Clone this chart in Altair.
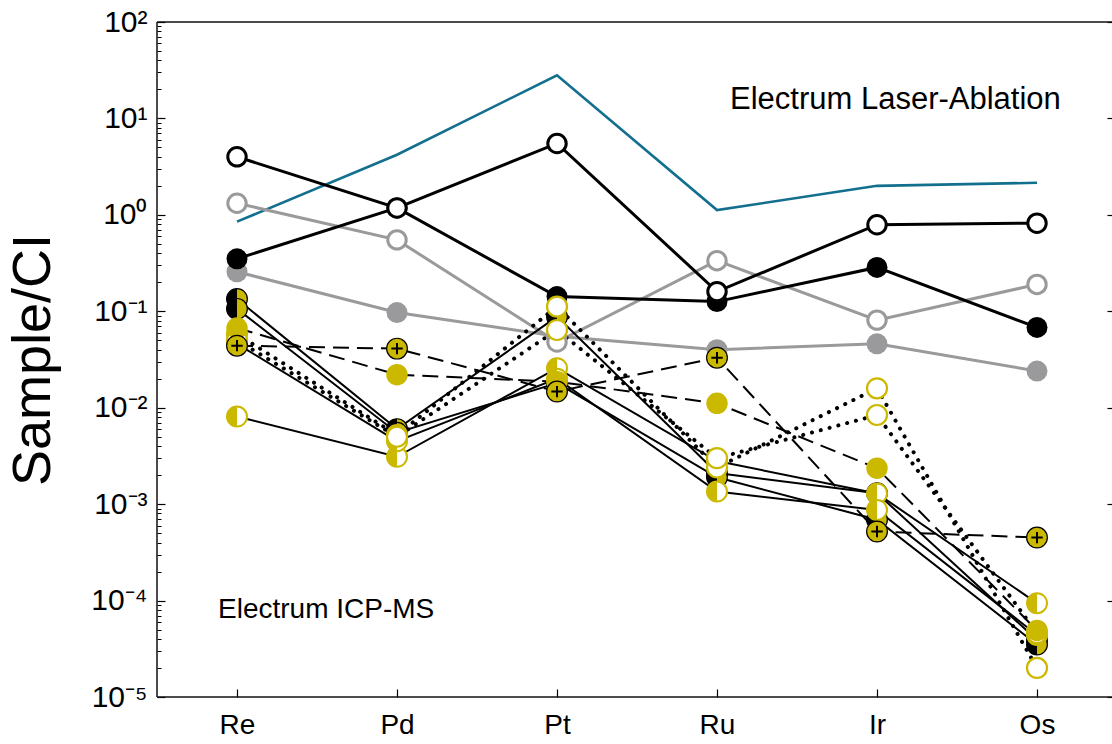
import json

import altair as alt
import pandas as pd

# ---- data -----------------------------------------------------------------
elements = ["Re", "Pd", "Pt", "Ru", "Ir", "Os"]

y_tick_values = [1e-5, 1e-4, 1e-3, 1e-2, 1e-1, 1e0, 1e1, 1e2]
y_tick_labels = ["10⁻⁵", "10⁻⁴", "10⁻³", "10⁻²", "10⁻¹", "10⁰", "10¹", "10²"]
y_minor_values = [m * 10.0 ** e for e in range(-5, 2) for m in range(2, 10)]

# Electrum, laser ablation
la_average = [0.85, 4.2, 28.0, 1.12, 2.0, 2.15]
la_open_black = [4.0, 1.18, 5.5, 0.16, 0.79, 0.82]
la_filled_black = [0.35, 1.18, 0.142, 0.126, 0.285, 0.068]
la_open_grey = [1.32, 0.55, 0.048, 0.335, 0.081, 0.19]
la_filled_grey = [0.257, 0.097, 0.055, 0.040, 0.046, 0.024]

# Electrum, ICP-MS
icp_a = [0.134, 0.0060, 0.088, 0.0021, 0.0013, 3.9e-5]
icp_b = [0.106, 0.0055, 0.018, 0.0019, 0.00069, 3.5e-5]
icp_c = [0.067, 0.022, 0.0186, 0.0111, 0.00236, 4.9e-5]
icp_d = [0.044, 0.041, 0.0147, 0.033, 0.00052, 0.00045]
icp_e = [0.058, 0.0052, 0.112, 0.0024, 0.0159, 2.0e-5]
icp_f = [0.050, 0.0050, 0.064, 0.0030, 0.0084, 4.6e-5]
icp_g = [0.0081, 0.0031, 0.0257, 0.0028, 0.00129, 9.4e-5]
icp_h = [0.046, 0.0045, 0.020, 0.00135, 0.00087, 4.4e-5]

series = {
    "la_average": la_average,
    "la_open_black": la_open_black,
    "la_filled_black": la_filled_black,
    "la_open_grey": la_open_grey,
    "la_filled_grey": la_filled_grey,
    "icp_a": icp_a,
    "icp_b": icp_b,
    "icp_c": icp_c,
    "icp_d": icp_d,
    "icp_e": icp_e,
    "icp_f": icp_f,
    "icp_g": icp_g,
    "icp_h": icp_h,
}

# line style group and marker type of every series
series_style = {
    "la_average": ("teal", "none"),
    "la_open_black": ("la_black", "open_black"),
    "la_filled_black": ("la_black", "filled_black"),
    "la_open_grey": ("la_grey", "open_grey"),
    "la_filled_grey": ("la_grey", "filled_grey"),
    "icp_a": ("solid", "split"),
    "icp_b": ("solid", "split"),
    "icp_c": ("dash", "filled_yellow"),
    "icp_d": ("dash", "plus"),
    "icp_e": ("dot", "open_yellow"),
    "icp_f": ("dot", "open_yellow"),
    "icp_g": ("solid", "half"),
    "icp_h": ("solid", "half"),
}

rows = []
for name, values in series.items():
    line, marker = series_style[name]
    for i, (el, v) in enumerate(zip(elements, values)):
        rows.append({"series": name, "pos": i + 1, "element": el,
                     "value": v, "line": line, "marker": marker})
df = pd.DataFrame(rows)

# ---- geometry / styling ---------------------------------------------------
W, H = 955, 675
FONT = "Liberation Sans"
TEAL = "#136f8e"
GREY = "#9a9a9c"
YELLOW = "#cbb900"
LEFT_HALF = "M0,-1A1,1,0,0,0,0,1Z"
CROSS = "M-0.55,0H0.55M0,-0.55V0.55"

x_scale = alt.Scale(domain=[0.5, 0.5 + W / 160.0], nice=False, zero=False)
y_scale = alt.Scale(type="log", domain=[1e-5, 100], nice=False)


def X(axis=None):
    return alt.X("pos:Q", scale=x_scale, axis=axis)


def Y(axis=None):
    return alt.Y("value:Q", scale=y_scale, axis=axis)


base = alt.Chart(df)


def lines(group, color, width, **kw):
    return (
        base.transform_filter(alt.datum.line == group)
        .mark_line(color=color, strokeWidth=width, **kw)
        .encode(x=X(), y=Y(), detail="series:N", order="pos:Q")
    )


def points(marker, **kw):
    return (
        base.transform_filter(alt.datum.marker == marker)
        .mark_point(opacity=1, **kw)
        .encode(x=X(), y=Y())
    )


# ---- axes -----------------------------------------------------------------
y_label_expr = json.dumps(y_tick_labels, ensure_ascii=False) + "[round(log(datum.value) / LN10) + 5]"
x_label_expr = json.dumps(elements) + "[datum.value - 1]"

y_major_axis = alt.Axis(
    orient="left", values=y_tick_values, labelExpr=y_label_expr,
    offset=-8, tickSize=8, tickWidth=1.2, tickColor="black",
    domain=False, grid=False, labelOverlap=False, labelFlush=False,
    labelFont=FONT, labelFontSize=30, labelColor="black", labelPadding=10,
    title="Sample/CI", titleFont=FONT, titleFontSize=54, titleFontWeight="normal",
    titleColor="black", titleAngle=270, titleAlign="center", titleBaseline="middle",
    titleX=-132, titleY=H / 2,
)
y_minor_axis = alt.Axis(
    orient="left", values=y_minor_values, labels=False, offset=-4, tickSize=4,
    tickWidth=1, tickColor="black", domain=False, grid=False, title=None,
)
y_right_axis = alt.Axis(
    orient="right", values=y_tick_values, labels=False, offset=-5, tickSize=5,
    tickWidth=1.2, tickColor="black", domain=False, grid=False, title=None,
)
x_axis = alt.Axis(
    orient="bottom", values=[1, 2, 3, 4, 5, 6], labelExpr=x_label_expr,
    offset=-8, tickSize=8, tickWidth=1.2, tickColor="black",
    domain=False, grid=False, labelFlush=False, labelOverlap=False,
    labelFont=FONT, labelFontSize=28, labelColor="black", labelPadding=14,
    title=None,
)

# ---- frame ----------------------------------------------------------------
one = alt.Chart(pd.DataFrame({"k": [0]}))
frame = [
    one.mark_rule(color="#111", strokeWidth=1.5).encode(
        x=alt.value(0), y=alt.value(0), y2=alt.value(H)),
    one.mark_rule(color="#111", strokeWidth=1.5).encode(
        x=alt.value(0), x2=alt.value(W), y=alt.value(0)),
    one.mark_rule(color="#111", strokeWidth=1.5).encode(
        x=alt.value(0), x2=alt.value(W), y=alt.value(H)),
]

# ---- layers ---------------------------------------------------------------
tick_carriers = [
    base.mark_point(opacity=0).encode(x=X(x_axis), y=Y(y_major_axis)),
    base.mark_point(opacity=0).encode(x=X(), y=Y(y_minor_axis)),
    base.mark_point(opacity=0).encode(x=X(), y=Y(y_right_axis)),
]

line_layers = [
    lines("teal", TEAL, 2.6),
    lines("la_grey", GREY, 3),
    lines("la_black", "black", 3),
    lines("solid", "black", 2),
    lines("dash", "black", 2, strokeDash=[16, 8]),
    lines("dot", "black", 4, strokeDash=[0.1, 9], strokeCap="round"),
]

la_markers = [
    points("filled_grey", shape="circle", filled=True, color=GREY, size=440),
    points("open_grey", shape="circle", fill="white", stroke=GREY, strokeWidth=3, size=340),
    points("filled_black", shape="circle", filled=True, color="black", size=440),
    points("open_black", shape="circle", fill="white", stroke="black", strokeWidth=3, size=340),
]

icp_markers = [
    points("split", shape="circle", fill=YELLOW, stroke="black", strokeWidth=1.2, size=430),
    points("split", shape=LEFT_HALF, filled=True, color="black", size=430),
    points("half", shape="circle", fill="white", stroke=YELLOW, strokeWidth=2, size=400),
    points("half", shape=LEFT_HALF, filled=True, color=YELLOW, size=420),
    points("open_yellow", shape="circle", fill="white", stroke=YELLOW, strokeWidth=2.2, size=400),
    points("filled_yellow", shape="circle", filled=True, color=YELLOW, size=460),
    points("plus", shape="circle", fill=YELLOW, stroke="black", strokeWidth=1.2, size=430),
    points("plus", shape=CROSS, filled=False, color="black", strokeWidth=2, size=430),
]

labels = [
    one.mark_text(font=FONT, fontSize=31, align="left", baseline="middle", color="black").encode(
        x=alt.value(573), y=alt.value(78), text=alt.value("Electrum Laser-Ablation")),
    one.mark_text(font=FONT, fontSize=28, align="left", baseline="middle", color="black").encode(
        x=alt.value(61), y=alt.value(588), text=alt.value("Electrum ICP-MS")),
]

chart = (
    alt.layer(*tick_carriers, *frame, *line_layers, *la_markers, *icp_markers, *labels)
    .resolve_axis(x="independent", y="independent")
    .properties(
        width=W, height=H,
        padding={"left": 157, "top": 22, "right": 0, "bottom": 47},
        autosize=alt.AutoSizeParams(type="none"),
        background="white",
    )
    .configure_view(stroke=None)
)

chart.save("out.html", embed_options={"renderer": "svg", "actions": False})
